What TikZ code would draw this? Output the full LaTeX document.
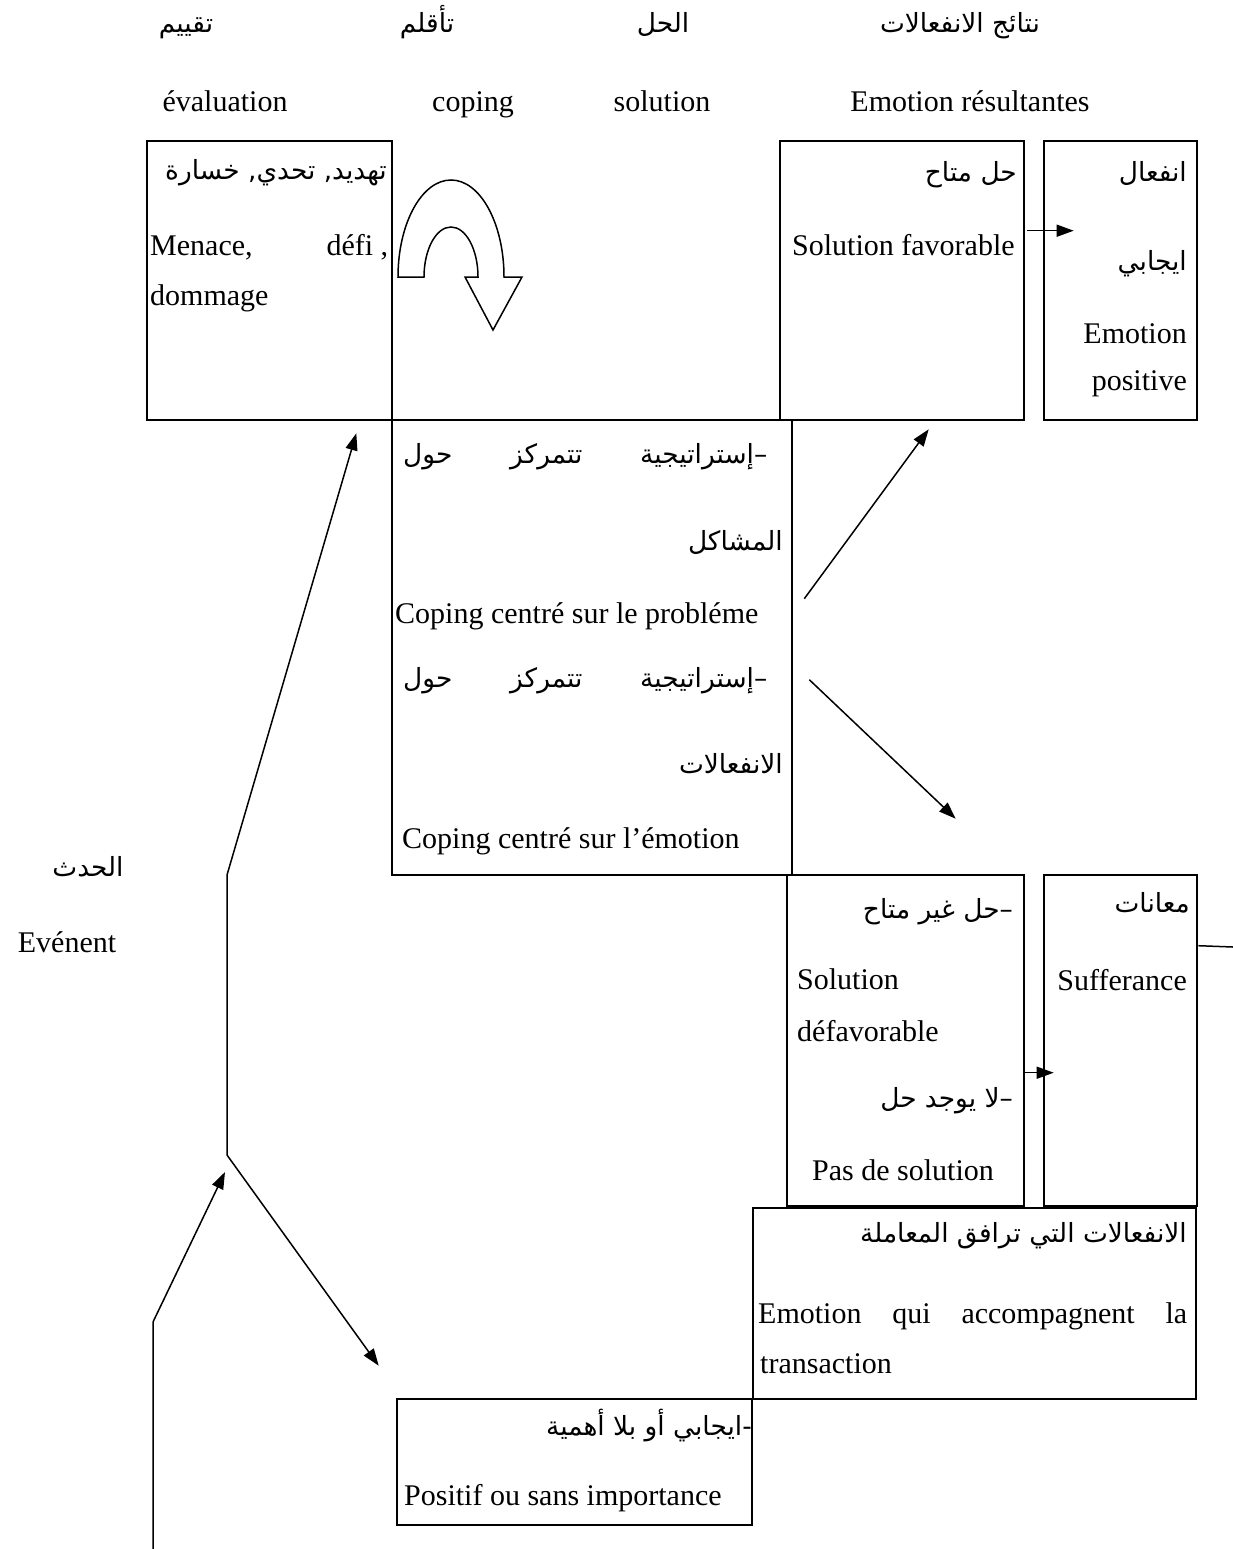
\documentclass[tikz,border=0pt]{standalone}
\usepackage{fontspec}
\setmainfont{Liberation Serif}
\newfontfamily\arabicfont[Script=Arabic,Scale=0.88]{DejaVu Sans}
\TeXXeTstate=1
\usetikzlibrary{arrows.meta,fit}
\newcommand{\arb}[1]{{\arabicfont\beginR #1\endR}}

\begin{document}
\begin{tikzpicture}[x=1pt,y=-1pt,
	every node/.style={font=\fontsize{30}{36}\selectfont, inner sep=0pt},
	box/.style={draw, line width=2.6pt, inner sep=0pt},
	fl/.style={anchor=base west},
	fr/.style={anchor=base east},
	fc/.style={anchor=base},
	link/.style={line width=1.5pt, -{Triangle[length=17pt,width=12pt]}},]
\useasboundingbox (0,0) rectangle (1233,1549);
\fill[white] (0,0) rectangle (1233,1549);

% column titles
\node[fc] (hEvalAr) at (186,33) {\arb{تقييم}};
\node[fc] (hCopAr) at (427,33) {\arb{تأقلم}};
\node[fc] (hSolAr) at (663,33) {\arb{الحل}};
\node[fc] (hEmoAr) at (960,33) {\arb{نتائج الانفعالات}};
\node[fc] (hEvalFr) at (225,112) {évaluation};
\node[fc] (hCopFr) at (473,112) {coping};
\node[fc] (hSolFr) at (662,112) {solution};
\node[fc] (hEmoFr) at (970,112) {Emotion résultantes};

% event
\node[fc] (evAr) at (88,876) {\arb{الحدث}};
\node[fc] (evFr) at (67,952) {Evénent};

% boxes
\node[box, fit={(147,141) (392,420)}] (eval) {};
\node[box, fit={(780,141) (1024,420)}] (favo) {};
\node[box, fit={(1044,141) (1197,420)}] (pos) {};
\node[box, fit={(392,420) (792,875)}] (cope) {};
\node[box, fit={(787,875) (1024,1206)}] (defav) {};
\node[box, fit={(1044,875) (1197,1206)}] (suff) {};
\node[box, fit={(753,1208) (1196,1399)}] (trans) {};
\node[box, fit={(397,1399) (752,1525)}] (posit) {};

% evaluation
\node[fr] (evalAr) at (387,180) {\arb{تهديد, تحدي, خسارة}};
\node[fl] (evalFr1) at (150,255) {\hbox to 238pt{Menace,\hfill défi ,}};
\node[fl] (evalFr2) at (150,305) {dommage};

% u-turn
\draw[line width=1.5pt, fill=white] (398,277) arc[start angle=180, end angle=0, x radius=53pt, y radius=97pt]
	-- (522,277) -- (493,330) -- (465,277) -- (478,277)
	arc[start angle=0, end angle=180, x radius=27pt, y radius=50pt] -- cycle;

% solution favorable / emotion positive
\node[fr] (favoAr) at (1017,182) {\arb{حل متاح}};
\node[fl] (favoFr) at (792,255) {Solution favorable};
\node[fr] (posAr1) at (1187,182) {\arb{انفعال}};
\node[fr] (posAr2) at (1187,270) {\arb{ايجابي}};
\node[fr] (posFr1) at (1187,343) {Emotion};
\node[fr] (posFr2) at (1187,390) {positive};

% coping
\node[fl] (copeAr1) at (403,463) {\hbox to 364pt{\arabicfont\beginR –إستراتيجية\hfill تتمركز\hfill حول\endR}};
\node[fr] (copeAr2) at (783,550) {\arb{المشاكل}};
\node[fl] (copeFr1) at (395,623) {Coping centré sur le probléme};
\node[fl] (copeAr3) at (403,687) {\hbox to 364pt{\arabicfont\beginR –إستراتيجية\hfill تتمركز\hfill حول\endR}};
\node[fr] (copeAr4) at (783,773) {\arb{الانفعالات}};
\node[fl] (copeFr2) at (402,848) {Coping centré sur l’émotion};

% solution defavorable / souffrance
\node[fr] (defAr1) at (1013,918) {\arb{–حل غير متاح}};
\node[fl] (defFr1) at (797,989) {Solution};
\node[fl] (defFr2) at (797,1041) {défavorable};
\node[fr] (defAr2) at (1013,1107) {\arb{–لا يوجد حل}};
\node[fc] (defFr3) at (903,1180) {Pas de solution};
\node[fr] (sufAr) at (1190,912) {\arb{معانات}};
\node[fr] (sufFr) at (1187,990) {Sufferance};

% transaction
\node[fr] (traAr) at (1187,1242) {\arb{الانفعالات التي ترافق المعاملة}};
\node[fl] (traFr1) at (758,1323) {\hbox to 429pt{Emotion\hfill qui\hfill accompagnent\hfill la}};
\node[fl] (traFr2) at (760,1373) {transaction};

% positif
\node[fr] (posiAr) at (752,1435) {\arb{-ايجابي أو بلا أهمية}};
\node[fl] (posiFr) at (404,1505) {Positif ou sans importance};

% connectors
\coordinate (evStart) at (153,1549);
\coordinate (evKnee) at (153,1322);
\coordinate (spineBot) at (227,1155);
\coordinate (spineTop) at (227,875);
\coordinate (sufOut) at (1233,947);
\draw[link] (evStart) -- (evKnee) -- ([shift={(-2,17)}]spineBot);
\draw[link] (spineBot) -- (spineTop) -- ([shift={(-37,12)}]eval.south east);
\draw[link] (spineBot) -- ([shift={(-17,-32)}]posit.north west);
\draw[link] ([shift={(11,180)}]cope.north east) -- ([shift={(150,8)}]favo.south west);
\draw[link] ([shift={(16,261)}]cope.north east) -- ([shift={(170,-55)}]defav.north west);
\draw[link] ([shift={(2,91)}]favo.north east) -- ([shift={(31,91)}]pos.north west);
\draw[link] ([shift={(-2,199)}]defav.north east) -- ([shift={(11,199)}]suff.north west);
\draw[line width=1.5pt] ([shift={(0,72)}]suff.north east) -- (sufOut);
\end{tikzpicture}
\end{document}
